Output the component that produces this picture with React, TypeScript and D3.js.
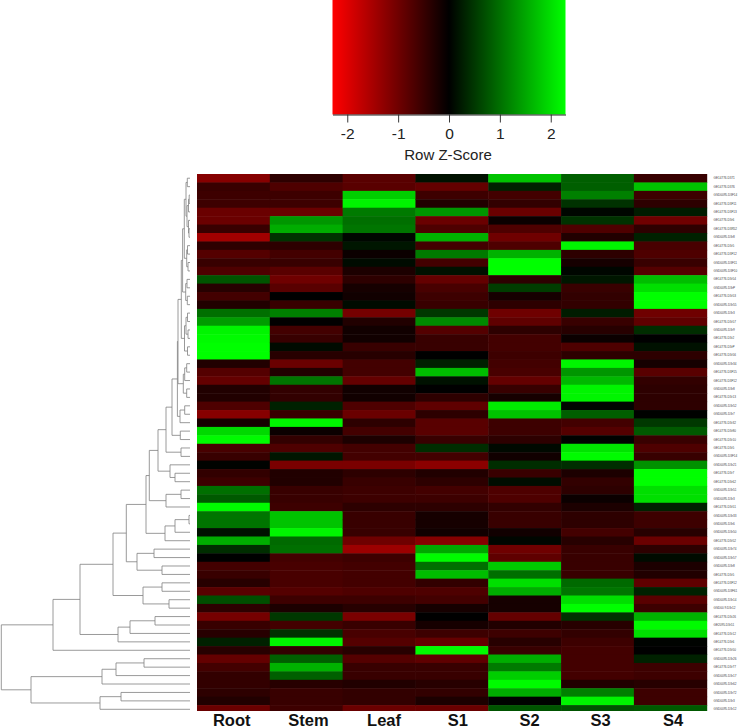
import React, { useEffect, useRef } from 'react';
import * as d3 from 'd3';

const conditions = ['Root', 'Stem', 'Leaf', 'S1', 'S2', 'S3', 'S4'];
// labels are not quite centred on their columns in the original
const labelNudge = [-1.7, 2.3, 5, 6, 5, 3, 2.7];

const root = [-1.2, -0.5, -0.55, -0.55, -0.95, -0.95, -0.5, -1.45, -0.4, -0.75, -0.5, -0.7, 0.75, -0.35, -0.6, -0.3, 1.0, 1.4, 2.2, 2.25, 2.3, 2.3,
  -0.3, -0.75, -0.9, -0.3, -0.3, -0.7, -1.2, -0.2, 1.95, 2.25, -0.65, -0.5, 0.03, -0.45, -0.55, 1.0, 0.8, 2.25, 1.05, 1.05, 0.15, 1.55,
  0.4, 0, -0.6, -0.5, -0.35, -0.8, 0.7, -0.4, -1.05, -0.5, -0.35, 0.3, -0.35, -0.9, -0.6, -0.45, -0.45, -0.4, -0.3, -0.95];
const stem = [-0.4, -0.7, -0.55, -0.55, -0.95, 1.35, 1.55, 0.45, -0.4, -0.6, -0.5, -0.8, -1.0, -0.8, 0, -0.5, 1.15, -0.02, -0.6, -0.5, 0.1, -0.35,
  -0.95, -0.3, 1.05, -0.45, -0.45, 0.3, -0.5, 2.2, -0.1, -0.45, -0.7, 0.2, -1.1, -0.3, -0.3, -0.5, -0.5, -0.55, 1.75, 1.75, 2.2, 0.95,
  1.0, -0.6, -0.65, -0.65, -0.65, -0.75, -0.55, -0.25, 0.5, -0.6, 0.45, 2.2, -0.45, 0.85, 1.6, 0.85, -0.35, -0.5, -0.5, -0.55];
const leaf = [-0.8, -0.8, 1.85, 2.2, 1.1, 1.0, 1.05, 0.05, 0.2, -0.1, 0.1, -0.25, -0.4, -0.2, -0.15, 0.1, -1.05, -0.3, -0.15, -0.15, -0.5, -0.35,
  -0.6, -0.6, -0.9, -0.15, -0.15, -0.7, -0.95, -0.4, -0.6, -0.25, -0.6, -0.6, -1.1, -0.4, -0.5, -0.55, -0.55, -0.4, -0.5, -0.5, -0.5, -1.0,
  -1.4, -0.55, -0.6, -0.6, -0.6, -0.7, -0.55, -0.35, -1.1, -0.5, -0.65, -0.75, -0.35, -0.75, -0.5, -0.5, -0.3, -0.45, -0.45, -0.95];
const s1 = [0.15, -0.9, -0.55, -0.3, 1.35, -0.95, -0.7, 1.6, -0.6, 1.1, -0.6, 0.15, -0.9, -0.65, -0.55, -0.5, 0.5, 1.25, -0.75, -0.5, -0.5, 0,
  0.3, 1.7, 0.15, 0, -0.4, -0.85, -0.4, -0.8, -0.8, -0.5, 0.4, -0.6, -1.25, -0.3, -0.4, -0.6, -0.55, -0.4, -0.2, -0.2, -0.15, -1.2,
  1.5, 2.25, 1.0, 1.7, -0.45, -0.7, -0.6, -0.2, 0, -0.2, -0.55, -0.9, 2.25, -0.85, -0.5, -0.5, -0.35, -0.45, -0.25, -0.95];
const s2 = [1.75, 0.3, -0.6, -0.45, -0.95, -0.1, -0.7, -1.0, -0.7, 1.6, 2.3, 2.3, -0.4, 0.55, -0.2, -0.4, -1.0, -0.85, -0.4, -0.6, -0.6, -0.55,
  -0.6, -0.65, -0.9, -0.5, -0.2, 2.1, 1.75, -0.55, -0.55, -0.4, 0.08, -0.15, 0.4, -0.5, 0.12, -0.7, -0.7, -0.45, -0.5, -0.5, -0.15, 0.05,
  -1.0, -0.85, 1.8, 1.0, 2.0, 1.55, -0.2, -0.2, -0.9, -0.3, -0.55, -0.35, -0.5, 1.55, 1.1, 1.85, 2.25, 1.55, 0.02, 0.75];
const s3 = [0.85, 0.85, 1.15, 0.45, 0.05, 0.45, -0.7, -0.3, 2.2, -0.4, -0.2, 0.05, 0.2, -0.5, -0.45, -0.45, 0.25, -0.5, -0.35, -0.1, -0.7, -0.4,
  2.2, 1.35, 1.65, 2.2, 2.2, 0.05, 0.85, -0.6, -0.75, 0.02, 2.05, 2.25, 0.4, -0.25, -0.45, -0.4, -0.1, -0.25, -0.4, -0.4, -0.6, -0.35,
  -0.5, -0.5, -0.5, -0.5, 0.95, 1.05, 2.0, 2.3, 0.45, -0.35, -0.45, -0.55, -0.6, -0.6, -0.6, -0.6, -0.3, 1.15, 2.2, 0.75];
const s4 = [-0.5, 1.75, -0.55, -0.4, 0.25, -1.0, -0.4, 0.3, -0.65, -0.7, -0.5, -0.75, 1.7, 2.0, 2.3, 2.3, -1.0, -0.85, 0.4, 0, 0.15, -0.4,
  -0.2, -0.8, -0.45, -0.4, -0.4, -0.4, 0.02, 0.5, 0.8, -0.5, -0.7, -0.5, 1.3, 2.3, 2.3, 2.0, 2.0, 0.3, -0.55, -0.55, -0.35, -0.95,
  -0.4, 0.1, -0.25, -0.3, -0.85, 0.3, -0.8, -0.55, 1.6, 2.25, 2.0, 0.03, 0, 0.3, -0.55, -0.55, -0.35, -0.55, -0.55, 0.8];
const columns = [root, stem, leaf, s1, s2, s3, s4];

// hardly legible in the picture, best guess
const rowLabels = [
  'GE14776.D371', 'GE14776.D376', 'GSD0095.D3F14', 'GE14776.D3F11', 'GE14776.D3F13', 'GE14776.D3r6', 'GE14776.D3R52', 'GSD0095.D3r8',
  'GE14776.D3r5', 'GE14776.D3F12', 'GSD0095.D3F11', 'GSD0095.D3F10', 'GE14776.D3r54', 'GSD0095.D3rP', 'GE14776.D3r53', 'GSD0095.D3r55',
  'GSD0095.D3r3', 'GE14776.D3r57', 'GSD0095.D3r9', 'GE14776.D3r2', 'GE14776.D3rP', 'GE14776.D3r56', 'GSD0095.D3r34', 'GE14776.D3F15',
  'GE14776.D3F12', 'GSD0095.D3r8', ' GE14776.D3r13', 'GSD0095.D3r52', 'GSD0095.D3r7', 'GE14776.D3r32', 'GE14776.D3r80', 'GE14776.D3r10',
  'GE14776.D3r5', 'GSD0095.D3F14', 'GSD0095.D3r21', 'GE14776.D3r7', 'GE14776.D3r62', 'GSD0095.D3r51', 'GSD0095.D3r3', 'GE14776.D3r51',
  'GSD0095.D3r33', 'GSD0095.D3r6', 'GSD0095.D3r50', 'GE14776.D3r52', 'GSD0095.D3r74', 'GSD0095.D3r57', 'GSD0095.D3r8', 'GE14776.D3r5',
  'GE14776.D3F12', 'GSD0095.D3F61', 'GSD0095.D3r14', 'GSD00 9.D3r12', 'GE14776.D3r26', 'GE2095.D3r51', 'GE14776.D3r12', 'GE14776.D3r6',
  'GE14776.D3r50', 'GSD0095.D3r26', 'GE14776.D3r77', 'GSD0095.D3r17', 'GSD0095.D3r62', 'GSD0095.D3r72', 'GSD0095.D3r3', 'GSD0095.D3r12',
];

// row dendrogram: [merge height, left, right], a plain number is a row index
type Tree = number | [number, Tree, Tree];
const n = (h: number, a: Tree, b: Tree): Tree => [h, a, b];

const rows0to7 = n(4, n(2.7, 0, 1), n(3, n(1.5, n(0.8, 2, 3), 4), n(1.5, 5, n(1, 6, 7))));
const rows8to11 = n(3.3, n(2.5, 8, 9), n(2, 10, 11));
const rows12to15 = n(4.3, n(3, 12, 13), n(2.7, 14, 15));
const rows16to21 = n(5.5, n(4, n(2.5, 16, 17), n(2, 18, 19)), n(2.5, 20, 21));
const rows0to21 = n(8.7, n(7.4, n(5.7, rows0to7, rows8to11), rows12to15), rows16to21);
const rows22to26 = n(6.7, n(5.3, n(3.3, 22, 23), 24), n(3.3, 25, 26));
const rows27to29 = n(10, n(5.3, 27, 28), 29);
const rows0to31 = n(18, n(12.6, n(12, rows0to21, rows22to26), rows27to29), n(9.7, 30, 31));
const rows0to36 = n(32, n(24, rows0to31, n(9, 32, 33)), n(20, 34, n(15, 35, 36)));
const rows0to43 = n(40.7, rows0to36, n(24, n(9, 37, 38), 39));
const rows40to43 = n(25, n(15, n(1, 40, 41), 42), 43);
const rows37to47 = n(53, n(36, 44, 45), n(28, 46, 47));
const rows0to51 = n(77, n(63.7, n(44, rows0to43, rows40to43), rows37to47), n(47, n(28, 48, 49), n(21, 50, 51)));
const rows52to55 = n(72, n(60, n(35, 52, 53), 54), 55);
const rows57to63 = n(159, n(88, n(74, n(46, 57, 58), 59), 60), n(90, n(69, 61, 62), 63));
const rowTree = n(188.7, n(137, n(110, rows0to51, rows52to55), 56), rows57to63);

const W = 738;
const H = 727;
const rowH = 8.43;
const heatTop = 174;
const heatBottom = 711;

const App: React.FC = () => {
  const svgRef = useRef<SVGSVGElement>(null);

  useEffect(() => {
    if (!svgRef.current) return;
    const svg = d3.select(svgRef.current);
    svg.selectAll('*').remove();

    const color = d3.scaleLinear<string>()
      .domain([-2.29, 0, 2.29])
      .range(['#ff0000', '#000000', '#00ff00'])
      .clamp(true);

    // Colour key
    const keyX = d3.scaleLinear().domain([-2.29, 2.29]).range([332.5, 565.5]);
    const defs = svg.append('defs');
    const grad = defs.append('linearGradient').attr('id', 'keyGradient');
    [-2.29, 0, 2.29].forEach(v => {
      grad.append('stop')
        .attr('offset', (keyX(v) - 332.5) / 233)
        .attr('stop-color', color(v));
    });
    defs.append('clipPath').attr('id', 'heatClip').append('rect')
      .attr('x', 190).attr('y', heatTop).attr('width', 530).attr('height', heatBottom - heatTop);

    svg.append('rect')
      .attr('x', 332.5).attr('y', 0).attr('width', 233).attr('height', 114.5)
      .attr('fill', 'url(#keyGradient)');

    const keyAxis = d3.axisBottom(keyX).tickValues([-2, -1, 0, 1, 2]).tickSize(8).tickSizeOuter(0)
      .tickFormat(d => d3.format('d')(d as number).replace('−', '-'));
    const keyG = svg.append('g').attr('transform', 'translate(0,114.5)').call(keyAxis);
    keyG.select('.domain').attr('stroke', '#222').attr('stroke-width', 1);
    keyG.selectAll('.tick line').attr('stroke', '#222').attr('stroke-width', 0.9);
    keyG.selectAll('.tick text')
      .attr('y', 13.5)
      .attr('font-family', '"Liberation Sans", Arial, sans-serif')
      .attr('font-size', 15.5)
      .attr('fill', '#222');
    svg.append('text')
      .attr('x', 448).attr('y', 160)
      .attr('text-anchor', 'middle')
      .attr('font-family', '"Liberation Sans", Arial, sans-serif')
      .attr('font-size', 15)
      .attr('fill', '#222')
      .text('Row Z-Score');

    // Heatmap
    const x = d3.scaleBand<string>().domain(conditions).range([197, 706.7]);
    const y = d3.scaleBand<number>().domain(d3.range(rowLabels.length))
      .range([heatTop, heatTop + rowH * rowLabels.length]);

    const heat = svg.append('g').attr('clip-path', 'url(#heatClip)');

    conditions.forEach((c, ci) => {
      heat.selectAll(`.cell-${ci}`)
        .data(columns[ci])
        .enter()
        .append('rect')
        .attr('x', x(c)!)
        .attr('y', (_, i) => y(i)!)
        .attr('width', x.bandwidth() + 0.5)
        .attr('height', y.bandwidth() + 0.5)
        .attr('fill', d => color(d));
    });

    // Row labels
    svg.append('g').selectAll('text')
      .data(rowLabels)
      .enter()
      .append('text')
      .attr('x', 713.5)
      .attr('y', (_, i) => y(i)! + y.bandwidth() / 2)
      .attr('dy', '0.35em')
      .attr('font-family', '"Liberation Sans", Arial, sans-serif')
      .attr('font-size', 3.1)
      .attr('fill', '#444')
      .text(d => d);

    // Column labels
    svg.append('g').selectAll('text')
      .data(conditions)
      .enter()
      .append('text')
      .attr('x', (d, i) => x(d)! + x.bandwidth() / 2 + labelNudge[i])
      .attr('y', 725.5)
      .attr('text-anchor', 'middle')
      .attr('font-family', '"Liberation Sans", Arial, sans-serif')
      .attr('font-weight', 'bold')
      .attr('font-size', 16.5)
      .attr('fill', '#111')
      .text(d => d);

    // Dendrogram
    const hx = d3.scaleLinear().domain([0, 189]).range([190, 1]);
    const segments: string[] = [];
    const walk = (t: Tree): { px: number; py: number } => {
      if (typeof t === 'number') return { px: hx(0), py: y(t)! + y.bandwidth() / 2 };
      const a = walk(t[1]);
      const b = walk(t[2]);
      const px = hx(t[0]);
      segments.push(`M${a.px},${a.py}H${px}V${b.py}H${b.px}`);
      return { px, py: (a.py + b.py) / 2 };
    };
    walk(rowTree);
    svg.append('g').selectAll('path')
      .data(segments)
      .enter()
      .append('path')
      .attr('d', d => d)
      .attr('fill', 'none')
      .attr('stroke', '#808080')
      .attr('stroke-width', 0.8);
  }, []);

  return (
    <svg
      ref={svgRef}
      width={W}
      height={H}
      style={{ position: 'absolute', left: 0, top: 0, background: '#fff' }}
    />
  );
};

export default App;
